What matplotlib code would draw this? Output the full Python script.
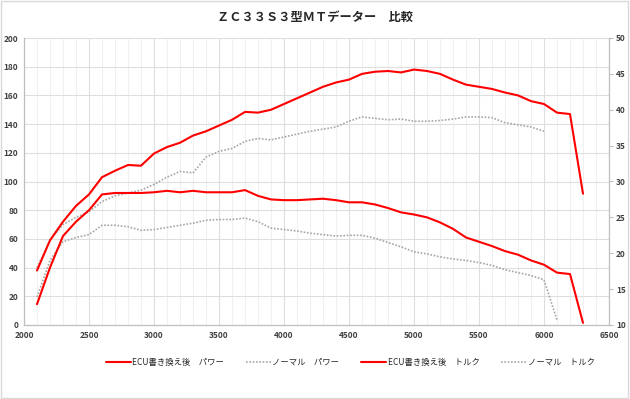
import numpy as np
import matplotlib.pyplot as plt
from matplotlib.patches import Rectangle
from matplotlib.ticker import MultipleLocator

plt.rcParams['font.family'] = ['Noto Sans CJK JP', 'DejaVu Sans']

# rpm grid
rpm = list(range(2100, 6400, 100))
rpm_normal_power = list(range(2100, 6100, 100))
rpm_normal_torque = list(range(2100, 6200, 100))

# ECU書き換え後 パワー (left axis)
ecu_power = [38, 59, 72, 83, 91, 103, 107.5, 111.5, 111, 119.5,
             124, 127, 132, 135, 139, 143, 148.5, 148, 150, 154,
             158, 162, 166, 169, 171, 175, 176.5, 177, 176, 178,
             177, 175, 171, 167.5, 166, 164.5, 162, 160, 156, 154,
             148, 147, 91.5]

# ノーマル パワー (left axis)
normal_power = [40, 59, 70, 75, 79, 86, 90, 92, 94, 98,
                103, 107, 106, 117, 121, 123, 128, 130, 129, 131,
                133, 135, 136.5, 138, 142, 145, 144, 143, 143.5, 142,
                142, 142.5, 143.5, 145, 145, 144.5, 141, 139.5, 138, 135]

# ECU書き換え後 トルク (right axis)
ecu_torque = [12.9, 18.0, 22.4, 24.4, 26.0, 28.2, 28.4, 28.4, 28.4, 28.5,
              28.7, 28.5, 28.7, 28.5, 28.5, 28.5, 28.8, 28.0, 27.5, 27.4,
              27.4, 27.5, 27.6, 27.4, 27.1, 27.1, 26.8, 26.3, 25.7, 25.4,
              25.0, 24.3, 23.4, 22.2, 21.6, 21.0, 20.3, 19.8, 19.0, 18.4,
              17.3, 17.1, 10.3]

# ノーマル トルク (right axis)
normal_torque = [13.9, 19.0, 21.6, 22.2, 22.6, 23.9, 23.9, 23.7, 23.2, 23.3,
                 23.6, 23.9, 24.2, 24.6, 24.7, 24.7, 24.9, 24.4, 23.5, 23.3,
                 23.1, 22.8, 22.6, 22.4, 22.5, 22.5, 22.1, 21.5, 20.9, 20.2,
                 19.9, 19.5, 19.2, 19.0, 18.7, 18.3, 17.7, 17.3, 16.9, 16.3,
                 10.7]

labels = ['ECU書き換え後　パワー', 'ノーマル　パワー',
          'ECU書き換え後　トルク', 'ノーマル　トルク']

red = '#ff0000'
gray = '#a6a6a6'

fig = plt.figure(figsize=(6.3, 3.99), dpi=100)
fig.patches.append(Rectangle((0.002, 0.003), 0.995, 0.994, transform=fig.transFigure,
                             fill=False, edgecolor='#d9d9d9', linewidth=1))
ax = fig.add_axes([24 / 630, 1 - 325 / 399, 585 / 630, 287 / 399])
ax2 = ax.twinx()

red_kw = dict(color=red, lw=1.5, solid_joinstyle='round', solid_capstyle='round', zorder=4)
gray_kw = dict(color=gray, lw=1.2, ls=(0, (1, 1)), zorder=3)
l1, = ax.plot(rpm, ecu_power, **red_kw)
l2, = ax.plot(rpm_normal_power, normal_power, **gray_kw)
l3, = ax2.plot(rpm, ecu_torque, **red_kw)
l4, = ax2.plot(rpm_normal_torque, normal_torque, **gray_kw)

ax.set_xlim(2000, 6500)
ax.set_ylim(0, 200)
ax2.set_ylim(10, 50)
ax.xaxis.set_major_locator(MultipleLocator(500))
ax.xaxis.set_minor_locator(MultipleLocator(100))
ax.yaxis.set_major_locator(MultipleLocator(20))
ax2.yaxis.set_major_locator(MultipleLocator(5))

ax.grid(which='major', color='#dedede', lw=0.8)
ax.grid(which='minor', axis='x', color='#f0f0f0', lw=0.8)
ax.set_axisbelow(True)

for a in (ax, ax2):
    for s in a.spines.values():
        s.set_color('#bfbfbf')
        s.set_linewidth(0.8)
    a.spines['top'].set_visible(False)
    a.tick_params(which='both', length=0, labelsize=6, labelcolor='#404040', pad=4)
ax2.tick_params(axis='y', length=3, color='#bfbfbf', pad=2)
for t in ax.get_xticklabels() + ax.get_yticklabels() + ax2.get_yticklabels():
    t.set_fontweight('bold')

fig.text(0.5, 1 - 17 / 399, 'ＺＣ３３Ｓ３型ＭＴデーター　比較', ha='center', va='center',
         fontsize=8.8, fontweight='bold', color='#262626')

leg = fig.legend([l1, l2, l3, l4], labels, loc='center', bbox_to_anchor=(0.556, 1 - 362 / 399),
                 ncol=4, frameon=False, fontsize=6, handlelength=3.0, handletextpad=0.2,
                 columnspacing=2.6)
for t in leg.get_texts():
    t.set_color('#262626')

fig.savefig('out.png', dpi=100)
